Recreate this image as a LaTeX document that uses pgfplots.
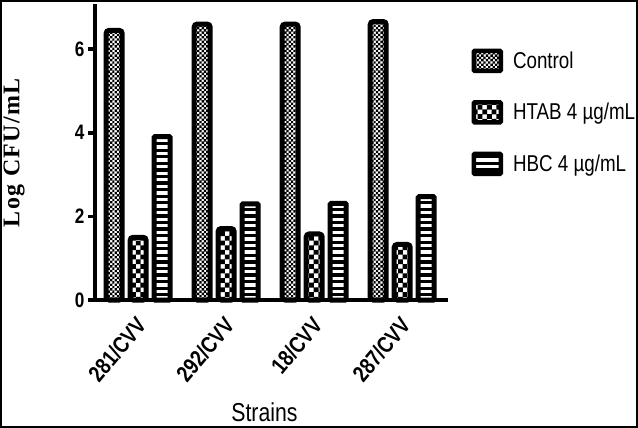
\documentclass[border=0pt]{standalone}
\usepackage{pgfplots}
\pgfplotsset{compat=1.18}
\usetikzlibrary{patterns}
\usepackage{fontspec}
\setmainfont{Liberation Sans}[FakeStretch=0.82]
\newfontfamily\ylabfont{Liberation Serif}[LetterSpace=6]

\pgfdeclarepatternformonly{finechk}{\pgfqpoint{-0.5pt}{-0.5pt}}{\pgfqpoint{4.5pt}{4.5pt}}{\pgfqpoint{4.6pt}{4.6pt}}{%
  \pgfpathrectangle{\pgfpointorigin}{\pgfqpoint{2.4pt}{2.4pt}}%
  \pgfpathrectangle{\pgfqpoint{2.3pt}{2.3pt}}{\pgfqpoint{2.4pt}{2.4pt}}%
  \pgfusepath{fill}}
\pgfdeclarepatternformonly{bigchk}{\pgfqpoint{-0.5pt}{-0.5pt}}{\pgfqpoint{10pt}{10pt}}{\pgfqpoint{9.4pt}{9.4pt}}{%
  \pgfpathrectangle{\pgfpointorigin}{\pgfqpoint{4.8pt}{4.8pt}}%
  \pgfpathrectangle{\pgfqpoint{4.7pt}{4.7pt}}{\pgfqpoint{4.8pt}{4.8pt}}%
  \pgfusepath{fill}}
\pgfdeclarepatternformonly{hstripes}{\pgfqpoint{-1pt}{-0.5pt}}{\pgfqpoint{7.6pt}{7.1pt}}{\pgfqpoint{6.6pt}{6.6pt}}{%
  \pgfpathrectangle{\pgfqpoint{-1pt}{0pt}}{\pgfqpoint{8.6pt}{3.3pt}}%
  \pgfusepath{fill}}

\begin{document}
\begin{tikzpicture}
\begin{axis}[
  name=ax,
  at={(0,0)}, anchor=south west,
  width=353bp, height=296bp, scale only axis,
  ybar=8bp, bar width=16bp,
  xmin=-0.49, xmax=3.52,
  ymin=0, ymax=7.08,
  axis x line=bottom, axis y line=left,
  axis line style={-, line width=4.5bp},
  xtick={0,1,2,3},
  xticklabels={281/CVV,292/CVV,18/CVV,287/CVV},
  xtick style={draw=none},
  ytick={0,2,4,6},
  tick align=outside,
  major tick length=7bp,
  ytick style={line width=3.5bp, black},
  /pgf/number format/assume math mode=true,
  yticklabel style={font=\bfseries\fontsize{21}{21}\selectfont},
  xticklabel style={font=\bfseries\fontsize{23}{23}\selectfont, yshift=-13bp, xshift=4bp, rotate=50, anchor=east, inner sep=1bp},
  xlabel={Strains},
  xlabel style={at={(axis description cs:0.48,-0.38)}, anchor=center, font=\fontsize{26}{26}\selectfont},
  ylabel={\ylabfont\bfseries Log CFU/mL},
  ylabel style={at={(axis description cs:-0.229,0.498)}, anchor=center, font=\fontsize{24}{24}\selectfont},
  legend style={at={(axis description cs:1.066,0.85)}, anchor=north west, draw=none, fill=none,
    font=\fontsize{23}{23}\selectfont, row sep=27bp, column sep=9bp, inner sep=0pt,
    nodes={inner sep=1bp, anchor=west}},
  legend cell align=left,
  legend image code/.code={\draw[#1, line width=4.5bp, rounded corners=1bp] (0bp,-10bp) rectangle (27bp,10bp);},
  clip=false,
  axis on top,
]
\addplot[draw=black, line width=5bp, pattern=finechk, rounded corners=3bp] coordinates {(0,6.45) (1,6.60) (2,6.60) (3,6.66)};
\addplot[draw=black, line width=5bp, pattern=bigchk, rounded corners=3bp] coordinates {(0,1.50) (1,1.71) (2,1.58) (3,1.33)};
\addplot[draw=black, line width=5bp, pattern=hstripes, rounded corners=1bp] coordinates {(0,3.91) (1,2.30) (2,2.31) (3,2.47)};
\legend{Control, HTAB 4 µg/mL, HBC 4 µg/mL}
\end{axis}
\draw[line width=2bp] (ax.south west) ++(-94bp,-127bp) rectangle ++(636bp,426bp);
\end{tikzpicture}
\end{document}
